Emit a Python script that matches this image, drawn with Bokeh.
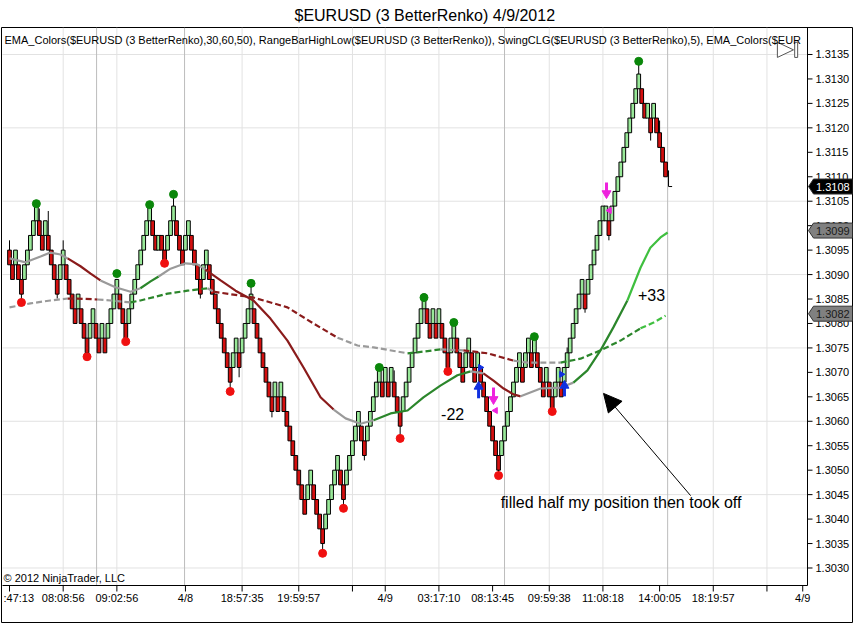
import math
from bokeh.plotting import figure
from bokeh.models import Range1d, Arrow, NormalHead
from bokeh.core.properties import value
from bokeh.embed import file_html
from bokeh.resources import INLINE

FONT = "Liberation Sans"

# ---------------- data ----------------
BRICK_BASE = 1.3035
BRICK_SIZE = 0.0003
bricks = ["R19","R18","G19","R18","R17","G18","G19","G20","G21","G22",
          "R21","R20","G21","R20","R19","R18","R17","G18","G19","R18",
          "R17","R16","R15","G16","R15","R14","R13","G14","G15","R14",
          "R13","G14","R13","G14","G15","G16","G17","R16","R15","R14",
          "G15","G16","G17","G18","G19","G20","G21","G22","R21","R20",
          "G20","R20","R19","G20","G21","G22","R21","R20","R19","G20",
          "G21","R20","R19","R18","R17","G18","G19","R18","R17","R16",
          "R15","R14","R13","R12","R11","G12","G13","R12","G13","G14",
          "G15","G16","R15","R14","R13","R12","R11","R10","R9","G10",
          "R9","G10","R9","R8","R7","R6","R5","R4","R3","R2",
          "G3","G4","R3","R2","R1","R0","G1","G2","G3","G4",
          "G5","R4","R3","G4","G5","G6","G7","G8","R7","R6",
          "G7","G8","G9","G10","G11","R10","G11","R10","G11","R10",
          "R9","R8","G9","G10","G11","G12","G13","G14","G15","G16",
          "R15","R14","G15","R14","G15","R14","R13","R12","G13","G14",
          "R13","R12","R11","G12","G13","R12","R11","G12","R11","R10",
          "R9","R8","R7","R6","R5","G6","G7","G8","G9","G10",
          "G11","G12","R11","G12","G13","R12","G13","R12","R11","R10",
          "G11","R10","R9","G10","G11","R10","G11","G12","G13","G14",
          "G15","G16","G17","R16","G17","G18","G19","G20","G21","G22",
          "G22","R21","G22","G23","G24","G25","G26","G27","G28","G29",
          "G30","G31","R30","R29","G29","R28","G29","R28","R27","R26",
          "R25"]

wick_idx = [0, 4, 9, 10, 13, 16, 18, 26, 39, 47, 55, 64, 74, 77, 81, 88, 105, 112,
            119, 129, 131, 164, 187, 193, 201, 211, 215, 218]
wick_hi = [1.3097, 1.3087, 1.31045, 1.31035, 1.3103, 1.3088, 1.3097, 1.3076, 1.3079,
           1.31043, 1.31064, 1.3088, 1.3070, 1.3073, 1.30882, 1.3064, 1.3037, 1.3046,
           1.3055, 1.30704, 1.3061, 1.3052, 1.30751, 1.3085, 1.3100, 1.31336, 1.3121,
           1.31215]
wick_lo = [1.3093, 1.30843, 1.3102, 1.3099, 1.3096, 1.30851, 1.3093, 1.30732, 1.30763,
           1.3102, 1.3102, 1.30851, 1.30661, 1.3069, 1.3084, 1.30608, 1.3033, 1.30422,
           1.3052, 1.3066, 1.30565, 1.30489, 1.3072, 1.30822, 1.3097, 1.3129, 1.31174,
           1.3117]

forming_idx = 221
forming_hi = 1.31113
forming_close = 1.3108

ema30_idx = [0, 5.4, 10.4, 13.7, 17.1, 19.5, 23.8, 27.2, 30.5, 35.5, 40.6, 43.9, 47.3,
             50.0, 54.0, 59.0, 63.0, 65.7, 70.8, 75.8, 81.8, 87.5, 93.2, 98.6, 104.3,
             108.7, 112.7, 117.7, 122.1, 127.8, 133.5, 138.8, 144.5, 150.2, 154.6,
             158.9, 162.3, 165.7, 169.0, 171.4, 178.1, 184.8, 189.1, 193.8, 198.2,
             202.5, 207.2, 211.6, 214.9, 218.3, 220.7]
ema30_px = [1.30933, 1.30925, 1.30937, 1.30945, 1.30941, 1.30933, 1.30917, 1.30902,
            1.30888, 1.30874, 1.30865, 1.30872, 1.30886, 1.30896, 1.30912, 1.30923,
            1.30921, 1.30910, 1.30888, 1.30867, 1.30847, 1.30810, 1.30765, 1.30710,
            1.30649, 1.30624, 1.30606, 1.30595, 1.30602, 1.30616, 1.30622, 1.30649,
            1.30673, 1.30694, 1.30702, 1.30698, 1.30683, 1.30667, 1.30655, 1.30651,
            1.30667, 1.30669, 1.30679, 1.30704, 1.30745, 1.30792, 1.30847, 1.30914,
            1.30955, 1.30976, 1.30986]
ema30_state = "nnnnndddnnnuunnnnddddddddnnnuuuuuunddddnnnuuuuUUUUU"

ema60_idx = [0, 7.0, 13.7, 19.5, 22.8, 29.5, 33.9, 40.6, 43.9, 53.0, 59.7, 66.4, 68.4,
             75.1, 81.8, 93.2, 101.9, 110.0, 116.7, 122.1, 133.5, 136.8, 144.5, 152.2,
             160.3, 169.0, 173.7, 184.8, 191.5, 198.2, 204.9, 211.6, 216.0, 220.0]
ema60_px = [1.30833, 1.30841, 1.30847, 1.30851, 1.30851, 1.30849, 1.30847, 1.30843,
            1.30847, 1.30861, 1.30867, 1.30872, 1.30865, 1.30859, 1.30853, 1.30833,
            1.30800, 1.30771, 1.30755, 1.30751, 1.30739, 1.30741, 1.30747, 1.30745,
            1.30739, 1.30724, 1.30720, 1.30720, 1.30728, 1.30745, 1.30765, 1.30790,
            1.30802, 1.30816]
ema60_state = "nnnddnnuuuundddddnnnuunddnnuuuuUUU"

swing_hi_idx = [9, 36, 47, 55, 81, 124, 139, 149, 176, 211]
swing_hi_px = [1.31045, 1.30902, 1.31043, 1.31064, 1.30882, 1.30710, 1.30853, 1.30802,
               1.30773, 1.31336]
swing_lo_idx = [4, 26, 39, 52, 74, 105, 112, 131, 147, 164, 182]
swing_lo_px = [1.30843, 1.30732, 1.30763, 1.30923, 1.30661, 1.30330, 1.30422, 1.30565,
               1.30702, 1.30489, 1.30620]

buy_arrow_idx = [157.3, 186.1]
buy_arrow_head = [1.30671, 1.30673]
buy_arrow_tail = [1.30647, 1.30651]
buy_tri_idx = [157.9, 185.1]
buy_tri_px = [1.30710, 1.30696]
sell_arrow_idx = [162.3, 200.2]
sell_arrow_head = [1.30645, 1.31066]
sell_arrow_tail = [1.30669, 1.31088]
sell_tri_idx = [163.0, 201.2]
sell_tri_px = [1.30622, 1.31031]

price_ticks = [1.3030, 1.3035, 1.3040, 1.3045, 1.3050, 1.3055, 1.3060, 1.3065, 1.3070,
               1.3075, 1.3080, 1.3085, 1.3090, 1.3095, 1.3100, 1.3105, 1.3110, 1.3115,
               1.3120, 1.3125, 1.3130, 1.3135]
price_grid = [1.3030, 1.3045, 1.3060, 1.3075, 1.3090, 1.3105, 1.3120, 1.3135]
time_tick_idx = [0, 18, 36, 59, 78, 97, 115, 126, 144, 162, 181, 199, 218, 236, 254, 266]
time_tick_labels = [":47:13", "08:08:56", "09:02:56", "4/8", "18:57:35", "19:59:57", "",
                    "4/9", "03:17:10", "08:13:45", "09:59:38", "11:08:18", "14:00:05",
                    "18:19:57", "", "4/9"]
time_grid_idx = [18, 36, 78, 97, 115, 126, 144, 181, 199, 236, 254]
session_idx = [29.2, 58.7, 166.0, 220.7]

marker_px = [1.3108, 1.3099, 1.3082]
marker_txt = ["1.3108", "1.3099", "1.3082"]
marker_bg = ["black", "#808080", "#808080"]
marker_fg = ["white", "#1a1a1a", "#1a1a1a"]

# ---------------- geometry ----------------
W, H = 853, 623
X_L, X_R = -2.35, 267.6          # price-panel bar range
Y_B, Y_T = 1.302642, 1.314052    # price-panel price range
PXX = 805.0 / (X_R - X_L)        # pixels per bar
PXY = 558.0 / (Y_T - Y_B)        # pixels per price unit


def dx(px):
    return px / PXX


def dy(px):
    return px / PXY


p = figure(width=W, height=H,
           x_range=Range1d(X_L - dx(1), X_R + dx(45)),
           y_range=Range1d(Y_B - dy(37), Y_T),
           toolbar_location=None, output_backend="svg",
           x_axis_location=None, y_axis_location=None,
           min_border_left=1, min_border_right=1, min_border_top=27, min_border_bottom=1,
           background_fill_color="white", border_fill_color="white")
p.outline_line_color = "black"
p.outline_line_width = 1
p.xgrid.visible = False
p.ygrid.visible = False

p.title.text = "$EURUSD (3 BetterRenko)  4/9/2012"
p.title.align = "center"
p.title.text_font = FONT
p.title.text_font_size = "16px"
p.title.text_font_style = "normal"
p.title.text_color = "black"
p.title.standoff = 8

# grid
p.segment(x0=time_grid_idx, y0=[Y_B] * len(time_grid_idx), x1=time_grid_idx,
          y1=[Y_T] * len(time_grid_idx), line_color="#e2e2e2", line_width=1)
p.segment(x0=[X_L] * len(price_grid), y0=price_grid, x1=[X_R] * len(price_grid),
          y1=price_grid, line_color="#e2e2e2", line_width=1)
p.segment(x0=session_idx, y0=[Y_B] * len(session_idx), x1=session_idx,
          y1=[Y_T] * len(session_idx), line_color="#bcbcbc", line_width=1)

# wicks
p.segment(x0=wick_idx, y0=wick_hi, x1=wick_idx, y1=wick_lo, line_color="black", line_width=1)
p.segment(x0=[forming_idx], y0=[forming_hi], x1=[forming_idx], y1=[forming_close],
          line_color="black", line_width=1)
p.segment(x0=[forming_idx], y0=[forming_close], x1=[forming_idx + 1.2], y1=[forming_close],
          line_color="black", line_width=1)

# bricks
bx, bb, bt, bc = [], [], [], []
for i, code in enumerate(bricks):
    lvl = int(code[1:])
    bx.append(i)
    bb.append(BRICK_BASE + BRICK_SIZE * lvl)
    bt.append(BRICK_BASE + BRICK_SIZE * (lvl + 1))
    bc.append("#98e898" if code[0] == "G" else "#d40f0f")
p.vbar(x=bx, width=1.25, bottom=bb, top=bt, fill_color=bc, line_color="black", line_width=1)

# EMA lines
STATE_COL = {"n": "#9a9a9a", "d": "#8a1b1b", "u": "#2b862b", "U": "#3fbf3f"}


def runs(xs, ys, states):
    out = []
    start = 0
    n = len(xs)
    for k in range(1, n):
        if k == n - 1 or states[k] != states[start]:
            out.append((xs[start:k + 1], ys[start:k + 1], STATE_COL[states[start]]))
            start = k
    return out


r30 = runs(ema30_idx, ema30_px, ema30_state)
p.multi_line(xs=[r[0] for r in r30], ys=[r[1] for r in r30], line_color=[r[2] for r in r30],
             line_width=2.2)
r60 = runs(ema60_idx, ema60_px, ema60_state)
p.multi_line(xs=[r[0] for r in r60], ys=[r[1] for r in r60], line_color=[r[2] for r in r60],
             line_width=2.2, line_dash="6 3")

# swing dots
p.scatter(swing_hi_idx, swing_hi_px, size=8, fill_color="#0a870a", line_color="#0a870a")
p.scatter(swing_lo_idx, swing_lo_px, size=8, fill_color="#f01010", line_color="#f01010")

# entry / exit arrows
p.segment(x0=buy_arrow_idx, y0=buy_arrow_tail, x1=buy_arrow_idx, y1=buy_arrow_head,
          line_color="#1030e0", line_width=3)
p.scatter(buy_arrow_idx, buy_arrow_head, marker="triangle", size=9, fill_color="#1030e0",
          line_color="#1030e0")
p.scatter(buy_tri_idx, buy_tri_px, marker="triangle", size=6, angle=-math.pi / 2,
          fill_color="#1030e0", line_color="#1030e0")
p.segment(x0=sell_arrow_idx, y0=sell_arrow_tail, x1=sell_arrow_idx, y1=sell_arrow_head,
          line_color="#ee22dd", line_width=3)
p.scatter(sell_arrow_idx, sell_arrow_head, marker="triangle", size=9, angle=math.pi,
          fill_color="#ee22dd", line_color="#ee22dd")
p.scatter(sell_tri_idx, sell_tri_px, marker="triangle", size=6, angle=math.pi / 2,
          fill_color="#ee22dd", line_color="#ee22dd")

# top-right icons
p.patch([257.5, 257.5, 262.9], [1.31375, 1.31344, 1.313595], fill_color="white",
        line_color="#555555", line_width=1)
p.quad(left=[263.3], right=[264.3], top=[1.31375], bottom=[1.31344], fill_color="white",
       line_color="#555555", line_width=1)

# price-panel frame (inner) lines
p.segment(x0=[X_R, X_L], y0=[Y_B, Y_B], x1=[X_R, X_R], y1=[Y_T, Y_B],
          line_color="black", line_width=1)

# price scale (right)
p.segment(x0=[X_R] * len(price_ticks), y0=price_ticks, x1=[X_R + dx(5)] * len(price_ticks),
          y1=price_ticks, line_color="black", line_width=1)
p.text(x=[X_R + dx(8)] * len(price_ticks), y=price_ticks,
       text=["%.4f" % v for v in price_ticks], text_font=value(FONT),
       text_font_size=value("11px"), text_align="left", text_baseline="middle",
       text_color="black")

# time scale (bottom)
p.segment(x0=time_tick_idx, y0=[Y_B] * len(time_tick_idx), x1=time_tick_idx,
          y1=[Y_B - dy(6)] * len(time_tick_idx), line_color="black", line_width=1)
p.text(x=time_tick_idx[1:], y=[Y_B - dy(12)] * (len(time_tick_idx) - 1),
       text=time_tick_labels[1:], text_font=value(FONT), text_font_size=value("11px"),
       text_align="center", text_baseline="middle", text_color="black")
p.text(x=[X_L + dx(1)], y=[Y_B - dy(12)], text=time_tick_labels[:1], text_font=value(FONT),
       text_font_size=value("11px"), text_align="left", text_baseline="middle",
       text_color="black")

# last-price markers
mxs, mys = [], []
for v in marker_px:
    mxs.append([X_R + dx(1), X_R + dx(6), X_R + dx(45), X_R + dx(45), X_R + dx(6)])
    mys.append([v, v + dy(7.5), v + dy(7.5), v - dy(7.5), v - dy(7.5)])
p.patches(xs=mxs, ys=mys, fill_color=marker_bg, line_color="#333333", line_width=1)
p.text(x=[X_R + dx(8.5)] * len(marker_px), y=marker_px, text=marker_txt,
       text_font=value(FONT), text_font_size=value("11px"), text_align="left",
       text_baseline="middle", text_color=marker_fg)

# annotations
p.add_layout(Arrow(end=NormalHead(size=18, fill_color="black", line_color="black"),
                   x_start=228.4, y_start=1.30448, x_end=199.2, y_end=1.30657,
                   line_color="black", line_width=1))


def txt(x, y, text, size, align="left"):
    p.text(x=[x], y=[y], text=[text], text_font=value(FONT), text_font_size=value(size),
           text_align=align, text_baseline="middle", text_color="black")


txt(-1.68, 1.31379, "EMA_Colors($EURUSD (3 BetterRenko),30,60,50), RangeBarHighLow($EURUSD "
    "(3 BetterRenko)), SwingCLG($EURUSD (3 BetterRenko),5), EMA_Colors($EUR", "11px")
txt(-2.0, 1.30279, "\u00a9 2012 NinjaTrader, LLC", "11px")
txt(148.6, 1.30614, "-22", "16px", align="center")
txt(215.3, 1.30859, "+33", "16px", align="center")
txt(164.7, 1.30434, "filled half my position then took off", "16px")

open("out.html", "w").write(file_html(p, INLINE))
